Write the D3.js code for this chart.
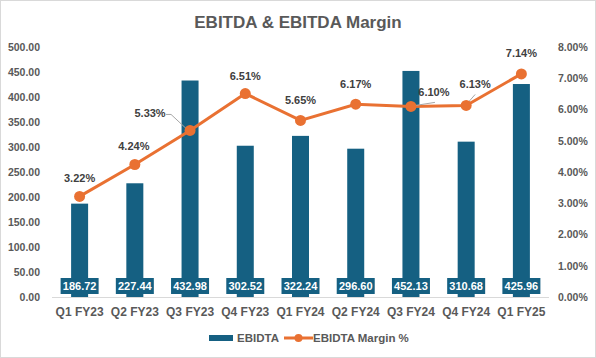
<!DOCTYPE html>
<html><head><meta charset="utf-8">
<script src="https://cdn.jsdelivr.net/npm/d3@7"></script>
<style>body{margin:0;background:#fff}svg{display:block}</style>
</head><body>
<svg id="c" width="596" height="358"></svg>
<script>
const categories = ["Q1 FY23","Q2 FY23","Q3 FY23","Q4 FY23","Q1 FY24","Q2 FY24","Q3 FY24","Q4 FY24","Q1 FY25"];
const ebitda = [186.72,227.44,432.98,302.52,322.24,296.60,452.13,310.68,425.96];
const margin = [3.22,4.24,5.33,6.51,5.65,6.17,6.10,6.13,7.14];
const leftTicks = [0,50,100,150,200,250,300,350,400,450,500];
const rightTicks = [0,1,2,3,4,5,6,7,8];
// label placement offsets (dx, dy from point)
const labelPos = [[0,-14],[-1,-15],[-40,-13],[0,-14],[0,-16],[0,-16],[23,-10],[9,-17],[0,-17]];

const svg = d3.select("#c");
const W=596,H=358, L=52, R=549, T=47, B=297;
const blue="#156082", orange="#E97132", grey="#595959";
const fontN = "'Liberation Sans Narrow','Arial Narrow',sans-serif";
const fontS = "'Liberation Sans',Arial,sans-serif";

svg.append("rect").attr("x",0.5).attr("y",0.5).attr("width",W-1).attr("height",H-1)
  .attr("fill","#fff").attr("stroke","#d9d9d9");

svg.append("text").attr("x",298).attr("y",28).attr("text-anchor","middle")
  .attr("font-family",fontN).attr("font-weight","bold").attr("font-size",17)
  .attr("fill",grey).text("EBITDA & EBITDA Margin");

const x = d3.scaleBand().domain(categories).range([L,R]);
const yL = d3.scaleLinear().domain([0,500]).range([B,T]);
const yR = d3.scaleLinear().domain([0,8]).range([B,T]);

const gl = svg.append("g").attr("transform",`translate(${L-9},0)`)
  .call(d3.axisLeft(yL).tickValues(leftTicks).tickFormat(d3.format(".2f")).tickSize(0));
gl.select(".domain").remove();
gl.selectAll("text").attr("font-family",fontS).attr("font-weight","bold").attr("font-size",10.5).attr("fill",grey);

const gr = svg.append("g").attr("transform",`translate(${R+6},0)`)
  .call(d3.axisRight(yR).tickValues(rightTicks).tickFormat(d=>d.toFixed(2)+"%").tickSize(0));
gr.select(".domain").remove();
gr.selectAll("text").attr("font-family",fontS).attr("font-weight","bold").attr("font-size",10.5).attr("fill",grey);

const bw = 17;
svg.append("g").selectAll("rect").data(ebitda).join("rect")
  .attr("x",(d,i)=>x(categories[i])+x.bandwidth()/2-bw/2)
  .attr("y",d=>yL(d)).attr("width",bw).attr("height",d=>B-yL(d)).attr("fill",blue);

svg.append("line").attr("x1",L).attr("x2",R).attr("y1",B+0.5).attr("y2",B+0.5).attr("stroke","#d9d9d9");

const gx = svg.append("g").attr("transform",`translate(0,${B})`)
  .call(d3.axisBottom(x).tickSize(0).tickPadding(10));
gx.select(".domain").remove();
gx.selectAll("text").attr("font-family",fontN).attr("font-weight","bold").attr("font-size",12).attr("fill",grey);

const vb = svg.append("g").selectAll("g").data(ebitda).join("g")
  .attr("transform",(d,i)=>`translate(${x(categories[i])+x.bandwidth()/2},286)`);
vb.append("rect").attr("x",-19).attr("y",-8).attr("width",38).attr("height",16).attr("fill",blue);
vb.append("text").attr("text-anchor","middle").attr("y",4)
  .attr("font-family",fontS).attr("font-weight","bold").attr("font-size",11).attr("fill","#fff")
  .text(d=>d.toFixed(2));

const cx = i=>x(categories[i])+x.bandwidth()/2;
svg.append("path").datum(margin)
  .attr("d",d3.line().x((d,i)=>cx(i)).y(d=>yR(d)))
  .attr("fill","none").attr("stroke",orange).attr("stroke-width",3);

// leader lines (relative to points)
const lead = svg.append("g").attr("fill","none").attr("stroke","#a6a6a6").attr("stroke-width",1);
{ const px=cx(2), py=yR(margin[2]);
  lead.append("polyline").attr("points",`${px-24},${py-16} ${px-19},${py-16} ${px-4},${py-2}`); }
{ const px=cx(6), py=yR(margin[6]);
  lead.append("line").attr("x1",px+5).attr("y1",py-1).attr("x2",px+24).attr("y2",py-4); }
{ const px=cx(7), py=yR(margin[7]);
  lead.append("line").attr("x1",px+2).attr("y1",py-3).attr("x2",px+9).attr("y2",py-11); }

svg.append("g").selectAll("circle").data(margin).join("circle")
  .attr("cx",(d,i)=>cx(i)).attr("cy",d=>yR(d)).attr("r",5.5).attr("fill",orange);

svg.append("g").selectAll("text").data(margin).join("text")
  .attr("x",(d,i)=>cx(i)+labelPos[i][0]).attr("y",(d,i)=>yR(d)+labelPos[i][1])
  .attr("text-anchor","middle")
  .attr("font-family",fontS).attr("font-weight","bold").attr("font-size",11).attr("fill","#404040")
  .text(d=>d.toFixed(2)+"%");

const lg = svg.append("g").attr("font-family",fontN).attr("font-weight","bold").attr("font-size",11.5).attr("fill",grey);
lg.append("rect").attr("x",209).attr("y",335).attr("width",24).attr("height",6).attr("fill",blue);
lg.append("text").attr("x",237).attr("y",342).text("EBIDTA");
lg.append("line").attr("x1",284).attr("x2",313).attr("y1",338).attr("y2",338).attr("stroke",orange).attr("stroke-width",3);
lg.append("circle").attr("cx",298.5).attr("cy",338).attr("r",4).attr("fill",orange);
lg.append("text").attr("x",313).attr("y",342).text("EBIDTA Margin %");
</script>
</body></html>
